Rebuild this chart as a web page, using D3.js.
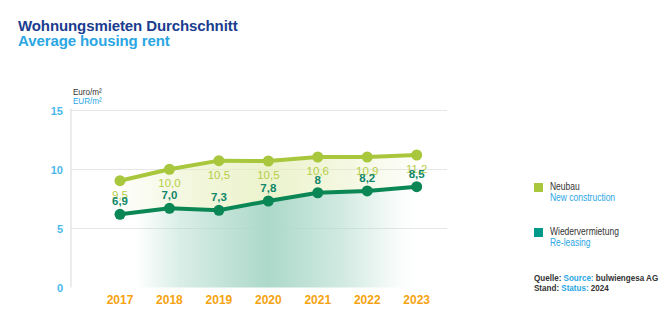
<!DOCTYPE html>
<html><head><meta charset="utf-8">
<script src="https://cdn.jsdelivr.net/npm/d3@7"></script>
<style>
body{margin:0;background:#fff;}
svg{font-family:"Liberation Sans",Arial,Helvetica,sans-serif;}
</style></head>
<body><svg id="c" width="671" height="336"></svg>
<script>
const years = ["2017","2018","2019","2020","2021","2022","2023"];
const neubau = [9.05, 10.02, 10.75, 10.72, 11.06, 11.06, 11.23];
const neubauLabels = ["9,5","10,0","10,5","10,5","10,6","10,9","11,2"];
const wieder = [6.2, 6.71, 6.54, 7.33, 8.03, 8.18, 8.54];
const wiederLabels = ["6,9","7,0","7,3","7,8","8","8,2","8,5"];
const yTicks = [0, 5, 10, 15];

const svg = d3.select("#c");
const cNeu = "#a9c73c", cWie = "#0b8655", cWieLeg = "#00998a";
const blue = "#2aa6e3", navy = "#1b3c8f", orange = "#f5a311", dark = "#333";

const x = d3.scalePoint().domain(years).range([120, 416.7]);
const y = d3.scaleLinear().domain([0, 15]).range([287.5, 110.5]);

// title
svg.append("text").attr("x", 18).attr("y", 30.5).attr("font-size", 15).attr("font-weight", "bold")
  .attr("fill", navy).attr("letter-spacing", -0.1).text("Wohnungsmieten Durchschnitt");
svg.append("text").attr("x", 18).attr("y", 46).attr("font-size", 15).attr("font-weight", "bold")
  .attr("fill", blue).attr("letter-spacing", -0.1).text("Average housing rent");

// unit
svg.append("text").attr("x", 73).attr("y", 95).attr("font-size", 9.5).attr("fill", dark)
  .attr("transform", "translate(73,0) scale(0.85,1) translate(-73,0)").html("Euro/m²");
svg.append("text").attr("x", 73).attr("y", 104).attr("font-size", 9.5).attr("fill", blue)
  .attr("transform", "translate(73,0) scale(0.85,1) translate(-73,0)").html("EUR/m²");

// gradients
const defs = svg.append("defs");
const g1 = defs.append("linearGradient").attr("id", "gWie").attr("x1", "0").attr("x2", "1").attr("y1", 0).attr("y2", 0);
[[0, 0], [0.06, 0.02], [0.2, 0.45], [0.5, 1], [0.75, 0.55], [0.95, 0.05], [1, 0]].forEach(([o, a]) =>
  g1.append("stop").attr("offset", o).attr("stop-color", "#acd9c9").attr("stop-opacity", a));
const g2 = defs.append("linearGradient").attr("id", "gNeu").attr("x1", "0").attr("x2", "1").attr("y1", 0).attr("y2", 0);
[[0, 0.05], [0.25, 0.5], [0.5, 0.7], [0.75, 0.45], [1, 0.05]].forEach(([o, a]) =>
  g2.append("stop").attr("offset", o).attr("stop-color", "#e4eeb8").attr("stop-opacity", a));

// grid
svg.append("g").selectAll("line").data(yTicks.filter(d => d > 0)).join("line")
  .attr("x1", 70).attr("x2", 447).attr("y1", d => y(d)).attr("y2", d => y(d))
  .attr("stroke", "#e6e6e6").attr("stroke-width", 1.2);
svg.append("line").attr("x1", 71).attr("x2", 71).attr("y1", y(15) - 2).attr("y2", y(0))
  .attr("stroke", "#e6e6e6").attr("stroke-width", 1.5);

// areas
const idx = years.map((d, i) => i);
svg.append("path").datum(idx)
  .attr("d", d3.area().x(i => x(years[i])).y0(i => y(wieder[i])).y1(i => y(neubau[i])))
  .attr("fill", "url(#gNeu)");
svg.append("path").datum(idx)
  .attr("d", d3.area().x(i => x(years[i])).y0(y(0)).y1(i => y(wieder[i])))
  .attr("fill", "url(#gWie)");

// y tick labels
svg.append("g").selectAll("text").data(yTicks).join("text")
  .attr("x", 63).attr("y", d => y(d) + 4).attr("text-anchor", "end")
  .attr("font-size", 11).attr("font-weight", "bold").attr("fill", "#4cb9ea").text(d => d);

// x labels
svg.append("g").selectAll("text").data(years).join("text")
  .attr("x", d => x(d)).attr("y", 303.5).attr("text-anchor", "middle")
  .attr("font-size", 12).attr("font-weight", "bold").attr("fill", orange).text(d => d);

// lines
const line = arr => d3.line().x(i => x(years[i])).y(i => y(arr[i]));
svg.append("path").datum(idx).attr("d", line(neubau)).attr("fill", "none").attr("stroke", cNeu).attr("stroke-width", 4);
svg.append("path").datum(idx).attr("d", line(wieder)).attr("fill", "none").attr("stroke", cWie).attr("stroke-width", 4);
svg.append("g").selectAll("circle").data(idx).join("circle")
  .attr("cx", i => x(years[i])).attr("cy", i => y(neubau[i])).attr("r", 5.5).attr("fill", cNeu);
svg.append("g").selectAll("circle").data(idx).join("circle")
  .attr("cx", i => x(years[i])).attr("cy", i => y(wieder[i])).attr("r", 5.5).attr("fill", cWie);

// value labels
svg.append("g").selectAll("text").data(idx).join("text")
  .attr("x", i => x(years[i])).attr("y", i => y(neubau[i]) + 18).attr("text-anchor", "middle")
  .attr("font-size", 11.5).attr("fill", "#b6cd45").text(i => neubauLabels[i]);
svg.append("g").selectAll("text").data(idx).join("text")
  .attr("x", i => x(years[i])).attr("y", i => y(wieder[i]) - 9).attr("text-anchor", "middle")
  .attr("font-size", 11.5).attr("font-weight", "bold").attr("fill", "#10876a").text(i => wiederLabels[i]);

// legend
const leg = [
  {c: cNeu, de: "Neubau", en: "New construction", y: 183},
  {c: cWieLeg, de: "Wiedervermietung", en: "Re-leasing", y: 228}
];
const lg = svg.append("g");
leg.forEach(d => {
  lg.append("rect").attr("x", 534).attr("y", d.y).attr("width", 9).attr("height", 9).attr("fill", d.c);
  lg.append("text").attr("x", 550).attr("y", d.y + 7.5).attr("font-size", 10).attr("fill", dark)
    .attr("transform", "translate(550,0) scale(0.85,1) translate(-550,0)").text(d.de);
  lg.append("text").attr("x", 550).attr("y", d.y + 18.5).attr("font-size", 10).attr("fill", blue)
    .attr("transform", "translate(550,0) scale(0.85,1) translate(-550,0)").text(d.en);
});

// source
const src = svg.append("g").attr("transform", "translate(534,0) scale(0.85,1)").attr("font-size", 9.5).attr("font-weight", "bold");
const t1 = src.append("text").attr("x", 0).attr("y", 281);
t1.append("tspan").attr("fill", dark).text("Quelle: ");
t1.append("tspan").attr("fill", blue).text("Source: ");
t1.append("tspan").attr("fill", dark).text("bulwiengesa AG");
const t2 = src.append("text").attr("x", 0).attr("y", 291);
t2.append("tspan").attr("fill", dark).text("Stand: ");
t2.append("tspan").attr("fill", blue).text("Status: ");
t2.append("tspan").attr("fill", dark).text("2024");
</script></body></html>
